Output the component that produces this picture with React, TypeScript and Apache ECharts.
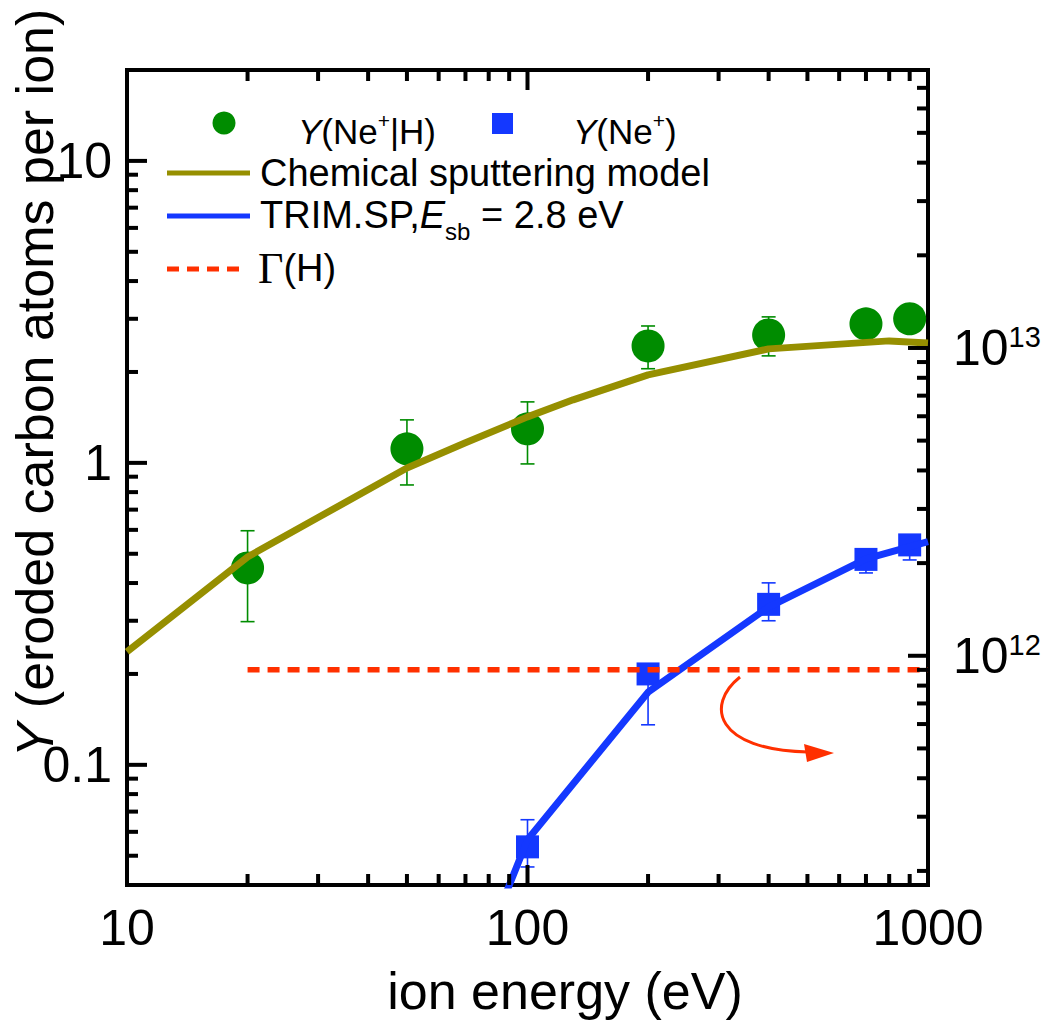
import React, { useEffect, useRef } from 'react';
import * as echarts from 'echarts';

// ---------- data ----------
const chemEnergy = [10, 20, 30, 50, 70, 100, 130, 200, 400, 800, 1000];
const chemYield = [0.237, 0.488, 0.659, 0.962, 1.165, 1.42, 1.617, 1.956, 2.385, 2.535, 2.495];

const trimEnergy = [80, 100, 200, 400, 700, 1000];
const trimYield = [0.027, 0.0565, 0.174, 0.333, 0.481, 0.548];

const neHEnergy = [20, 50, 100, 200, 400, 700, 900];
const neHYield = [0.449, 1.113, 1.296, 2.44, 2.653, 2.886, 3.0];
const neHErrEnergy = [20, 50, 100, 200, 400];
const neHLow = [0.298, 0.845, 0.992, 2.05, 2.261];
const neHHigh = [0.596, 1.388, 1.592, 2.84, 3.044];

const neEnergy = [100, 200, 400, 700, 900];
const neYield = [0.0535, 0.2, 0.34, 0.479, 0.535];
const neLow = [0.0459, 0.1357, 0.3, 0.432, 0.477];
const neHigh = [0.0658, 0.21, 0.4005, 0.51, 0.57];

const fluxEnergy = [20, 1000];
const fluxH = [9e11, 9e11];

// tick values
const xMinorTicks = [20, 30, 40, 50, 60, 70, 80, 90, 200, 300, 400, 500, 600, 700, 800, 900];
const xMajorTicks = [100];
const yLeftMinorTicks = [0.05, 0.06, 0.07, 0.08, 0.09, 0.2, 0.3, 0.4, 0.5, 0.6, 0.7, 0.8, 0.9, 2, 3, 4, 5, 6, 7, 8, 9];
const yLeftMajorTicks = [0.1, 1, 10];
const yRightMinorTicks = [2e11, 3e11, 4e11, 5e11, 6e11, 7e11, 8e11, 9e11, 2e12, 3e12, 4e12, 5e12, 6e12, 7e12, 8e12, 9e12, 2e13, 3e13, 4e13, 5e13, 6e13, 7e13, 8e13];
const yRightMajorTicks = [1e12, 1e13];

const X_MIN = 10, X_MAX = 1000;
const YL_MIN = 0.04, YL_MAX = 20;
const YR_MIN = 1.8e11, YR_MAX = 8e13;

const FONT = '"Liberation Sans", Arial, Helvetica, sans-serif';
const SERIF = '"Liberation Serif", "Times New Roman", serif';
const GREEN = '#008C00';
const OLIVE = '#968F00';
const BLUE = '#1438FF';
const RED = '#FF3000';

function isPow10(v: number) {
  const l = Math.log10(v);
  return Math.abs(l - Math.round(l)) < 1e-6;
}

function tickSeries(data: number[][], xi: number, yi: number, dir: string) {
  return {
    type: 'custom',
    xAxisIndex: xi,
    yAxisIndex: yi,
    silent: true,
    z: 6,
    data,
    encode: { x: 0, y: 1 },
    renderItem: (_p: any, api: any) => {
      const pt = api.coord([api.value(0), api.value(1)]);
      const len = api.value(2);
      let shape: any;
      if (dir === 'right') shape = { x1: pt[0], y1: pt[1], x2: pt[0] + len, y2: pt[1] };
      else if (dir === 'left') shape = { x1: pt[0], y1: pt[1], x2: pt[0] - len, y2: pt[1] };
      else if (dir === 'up') shape = { x1: pt[0], y1: pt[1], x2: pt[0], y2: pt[1] - len };
      else shape = { x1: pt[0], y1: pt[1], x2: pt[0], y2: pt[1] + len };
      return { type: 'line', shape, style: { stroke: '#000', lineWidth: 4 } };
    },
  };
}

function errSeries(xs: number[], lo: number[], hi: number[], color: string) {
  return {
    type: 'custom',
    silent: true,
    z: 2,
    data: xs.map((x, i) => [x, lo[i], hi[i]]),
    encode: { x: 0, y: [1, 2] },
    renderItem: (_p: any, api: any) => {
      const x = api.value(0);
      const a = api.coord([x, api.value(1)]);
      const b = api.coord([x, api.value(2)]);
      const hw = 7;
      const style = { stroke: color, lineWidth: 1.6 };
      return {
        type: 'group',
        children: [
          { type: 'line', shape: { x1: a[0], y1: a[1], x2: b[0], y2: b[1] }, style },
          { type: 'line', shape: { x1: a[0] - hw, y1: a[1], x2: a[0] + hw, y2: a[1] }, style },
          { type: 'line', shape: { x1: b[0] - hw, y1: b[1], x2: b[0] + hw, y2: b[1] }, style },
        ],
      };
    },
  };
}

const axisLineStyle = { show: true, onZero: false, lineStyle: { color: '#000', width: 4, cap: 'square' } };

export default function App() {
  const ref = useRef<HTMLDivElement>(null);
  useEffect(() => {
    if (!ref.current) return;
    const chart = echarts.init(ref.current, null, { renderer: 'svg' });
    const option: any = {
      animation: false,
      backgroundColor: '#fff',
      grid: { left: 127, top: 70, width: 801, height: 815, containLabel: false, outerBoundsMode: 'none' },
      xAxis: [
        {
          type: 'log', logBase: 10, min: X_MIN, max: X_MAX, position: 'bottom',
          axisLine: axisLineStyle, axisTick: { show: false }, splitLine: { show: false },
          axisLabel: {
            color: '#000', fontSize: 50, fontFamily: FONT, margin: 18,
            formatter: (v: number) => (isPow10(v) ? String(Math.round(v)) : ''),
          },
        },
        {
          type: 'log', logBase: 10, min: X_MIN, max: X_MAX, position: 'top',
          axisLine: axisLineStyle, axisTick: { show: false }, splitLine: { show: false },
          axisLabel: { show: false },
        },
      ],
      yAxis: [
        {
          type: 'log', logBase: 10, min: YL_MIN, max: YL_MAX, position: 'left',
          axisLine: axisLineStyle, axisTick: { show: false }, splitLine: { show: false },
          axisLabel: {
            color: '#000', fontSize: 50, fontFamily: FONT, margin: 15,
            formatter: (v: number) => {
              if (!isPow10(v)) return '';
              const e = Math.round(Math.log10(v));
              return e < 0 ? Math.pow(10, e).toFixed(-e) : String(Math.round(Math.pow(10, e)));
            },
          },
        },
        {
          type: 'log', logBase: 10, min: YR_MIN, max: YR_MAX, position: 'right',
          axisLine: axisLineStyle, axisTick: { show: false }, splitLine: { show: false },
          axisLabel: {
            color: '#000', fontFamily: FONT, margin: 25,
            formatter: (v: number) => (isPow10(v) ? '{b|10}{s|' + Math.round(Math.log10(v)) + '}' : ''),
            rich: {
              b: { fontSize: 50, fontFamily: FONT, color: '#000', lineHeight: 50 },
              s: { fontSize: 29, fontFamily: FONT, color: '#000', verticalAlign: 'top', lineHeight: 14 },
            },
          },
        },
      ],
      series: [
        errSeries(neHErrEnergy, neHLow, neHHigh, GREEN),
        errSeries(neEnergy, neLow, neHigh, BLUE),
        {
          type: 'scatter', name: 'Y(Ne+|H)', z: 3, symbol: 'circle', symbolSize: 33,
          itemStyle: { color: GREEN, opacity: 1 },
          data: neHEnergy.map((e, i) => [e, neHYield[i]]),
        },
        {
          type: 'scatter', name: 'Y(Ne+)', z: 3, symbol: 'rect', symbolSize: 23,
          itemStyle: { color: BLUE, opacity: 1 },
          data: neEnergy.map((e, i) => [e, neYield[i]]),
        },
        {
          type: 'line', name: 'Chemical sputtering model', z: 4, symbol: 'none', showSymbol: false,
          lineStyle: { color: OLIVE, width: 7 },
          data: chemEnergy.map((e, i) => [e, chemYield[i]]),
        },
        {
          type: 'line', name: 'TRIM.SP', z: 4, symbol: 'none', showSymbol: false,
          lineStyle: { color: BLUE, width: 7 }, clip: true,
          data: trimEnergy.map((e, i) => [e, trimYield[i]]),
        },
        {
          type: 'line', name: 'Γ(H)', yAxisIndex: 1, z: 5, symbol: 'none', showSymbol: false,
          lineStyle: { color: RED, width: 5.5, type: [12, 8] },
          data: fluxEnergy.map((e, i) => [e, fluxH[i]]),
        },
        tickSeries(yLeftMinorTicks.map((v) => [X_MIN, v, 11]), 0, 0, 'right'),
        tickSeries(yLeftMajorTicks.map((v) => [X_MIN, v, 20]), 0, 0, 'right'),
        tickSeries(xMinorTicks.map((v) => [v, YL_MIN, 11]), 0, 0, 'up'),
        tickSeries(xMajorTicks.map((v) => [v, YL_MIN, 20]), 0, 0, 'up'),
        tickSeries(xMinorTicks.map((v) => [v, YL_MAX, 11]), 0, 0, 'down'),
        tickSeries(xMajorTicks.map((v) => [v, YL_MAX, 20]), 0, 0, 'down'),
        tickSeries(yRightMinorTicks.map((v) => [X_MAX, v, 11]), 0, 1, 'left'),
        tickSeries(yRightMajorTicks.map((v) => [X_MAX, v, 20]), 0, 1, 'left'),
      ],
      graphic: [
        // axis titles
        {
          type: 'text', x: 565, y: 991, z: 10,
          style: { text: 'ion energy (eV)', fontSize: 52, fontFamily: FONT, fill: '#000', align: 'center', verticalAlign: 'middle' },
        },
        {
          type: 'text', x: 35, y: 383, rotation: Math.PI / 2, z: 10,
          style: {
            text: '{i|Y}{n| (eroded carbon atoms per ion)}', fontSize: 52, fontFamily: FONT, fill: '#000',
            align: 'center', verticalAlign: 'middle',
            rich: {
              i: { fontSize: 52, fontFamily: FONT, fontStyle: 'italic', fill: '#000' },
              n: { fontSize: 52, fontFamily: FONT, fill: '#000' },
            },
          },
        },
        // legend
        { type: 'circle', z: 10, shape: { cx: 224, cy: 123, r: 11.5 }, style: { fill: GREEN } },
        {
          type: 'text', x: 298, y: 131, z: 10,
          style: {
            text: '{i|Y}{n|(Ne}{s|+}{n||H)}', fontSize: 35, fontFamily: FONT, fill: '#000', align: 'left', verticalAlign: 'middle',
            rich: {
              i: { fontSize: 35, fontFamily: FONT, fontStyle: 'italic', fill: '#000', lineHeight: 42 },
              n: { fontSize: 35, fontFamily: FONT, fill: '#000', lineHeight: 42 },
              s: { fontSize: 21, fontFamily: FONT, fill: '#000', verticalAlign: 'top', lineHeight: 20 },
            },
          },
        },
        { type: 'rect', z: 10, shape: { x: 492, y: 113, width: 21, height: 21 }, style: { fill: BLUE } },
        {
          type: 'text', x: 573, y: 131, z: 10,
          style: {
            text: '{i|Y}{n|(Ne}{s|+}{n|)}', fontSize: 35, fontFamily: FONT, fill: '#000', align: 'left', verticalAlign: 'middle',
            rich: {
              i: { fontSize: 35, fontFamily: FONT, fontStyle: 'italic', fill: '#000', lineHeight: 42 },
              n: { fontSize: 35, fontFamily: FONT, fill: '#000', lineHeight: 42 },
              s: { fontSize: 21, fontFamily: FONT, fill: '#000', verticalAlign: 'top', lineHeight: 20 },
            },
          },
        },
        { type: 'line', z: 10, shape: { x1: 167, y1: 173, x2: 250, y2: 173 }, style: { stroke: OLIVE, lineWidth: 5 } },
        {
          type: 'text', x: 260, y: 173, z: 10,
          style: { text: 'Chemical sputtering model', fontSize: 38, fontFamily: FONT, fill: '#000', align: 'left', verticalAlign: 'middle' },
        },
        { type: 'line', z: 10, shape: { x1: 167, y1: 216, x2: 250, y2: 216 }, style: { stroke: BLUE, lineWidth: 5 } },
        {
          type: 'text', x: 260, y: 215, z: 10,
          style: {
            text: '{n|TRIM.SP,}{i|E}{u|sb}{n| = 2.8 eV}', fontSize: 38, fontFamily: FONT, fill: '#000', align: 'left', verticalAlign: 'middle',
            rich: {
              n: { fontSize: 38, fontFamily: FONT, fill: '#000', lineHeight: 56 },
              i: { fontSize: 38, fontFamily: FONT, fontStyle: 'italic', fill: '#000', lineHeight: 56 },
              u: { fontSize: 24, fontFamily: FONT, fill: '#000', verticalAlign: 'bottom', lineHeight: 14 },
            },
          },
        },
        { type: 'line', z: 10, shape: { x1: 167, y1: 269, x2: 240, y2: 269 }, style: { stroke: RED, lineWidth: 5, lineDash: [12, 8] } },
        {
          type: 'text', x: 258, y: 268, z: 10,
          style: {
            text: '{g|Γ}{n|(H)}', fontSize: 38, fontFamily: FONT, fill: '#000', align: 'left', verticalAlign: 'middle',
            rich: {
              g: { fontSize: 44, fontFamily: SERIF, fill: '#000' },
              n: { fontSize: 38, fontFamily: FONT, fill: '#000' },
            },
          },
        },
        // arrow annotation
        {
          type: 'bezierCurve', z: 10,
          shape: { x1: 740, y1: 677, cpx1: 705, cpy1: 705, cpx2: 715, cpy2: 750, x2: 808, y2: 752 },
          style: { stroke: RED, lineWidth: 3, fill: 'none' },
        },
        {
          type: 'polygon', z: 10,
          shape: { points: [[834, 753], [804, 744], [807, 762]] },
          style: { fill: RED },
        },
      ],
    };
    chart.setOption(option);
    return () => chart.dispose();
  }, []);
  return (
    <div
      ref={ref}
      style={{ position: 'fixed', left: 0, top: 0, width: 1041, height: 1021, background: '#fff' }}
    />
  );
}
